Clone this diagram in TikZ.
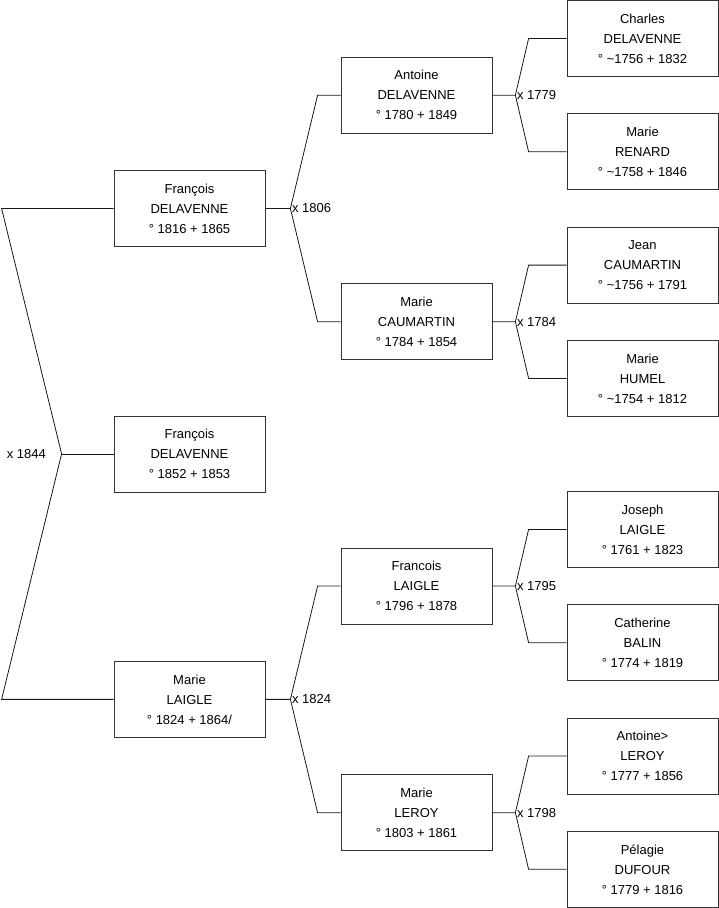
\documentclass[tikz,border=0pt]{standalone}
\usepackage{fontspec}
\setmainfont{Liberation Sans}
\usetikzlibrary{calc,positioning}

\begin{document}
\begin{tikzpicture}[
    x=1pt, y=-1pt,
    font=\fontsize{13}{20}\selectfont,
    person/.style={draw=black!80, line width=0.8pt, minimum width=151pt,
      minimum height=76pt, inner sep=0pt, align=center},
    link/.style={draw=black!90, line width=0.8pt},
    wed/.style={font=\fontsize{13}{15}\selectfont, inner sep=1.5pt, anchor=west}
  ]
    \useasboundingbox (0,0) rectangle (719,908);

    % great-grandparents
    \node[person] (charles) at (642.5,38.5) {Charles\\DELAVENNE\\° \textasciitilde 1756 + 1832};
    \node[person, below=36.5pt of charles] (renard) {Marie\\RENARD\\° \textasciitilde 1758 + 1846};
    \node[person, below=36.5pt of renard] (jean) {Jean\\CAUMARTIN\\° \textasciitilde 1756 + 1791};
    \node[person, below=36.5pt of jean] (humel) {Marie\\HUMEL\\° \textasciitilde 1754 + 1812};
    \node[person, below=74.2pt of humel] (joseph) {Joseph\\LAIGLE\\° 1761 + 1823};
    \node[person, below=36.5pt of joseph] (balin) {Catherine\\BALIN\\° 1774 + 1819};
    \node[person, below=36.5pt of balin] (antoineL) {Antoine>\\LEROY\\° 1777 + 1856};
    \node[person, below=36.5pt of antoineL] (pelagie) {Pélagie\\DUFOUR\\° 1779 + 1816};

    % grandparents
    \node[person] (antoineD) at ($(charles)!0.5!(renard)+(-226,0)$) {Antoine\\DELAVENNE\\° 1780 + 1849};
    \node[person] (marieC) at ($(jean)!0.5!(humel)+(-226,0)$) {Marie\\CAUMARTIN\\° 1784 + 1854};
    \node[person] (francoisL) at ($(joseph)!0.5!(balin)+(-226,0)$) {Francois\\LAIGLE\\° 1796 + 1878};
    \node[person] (marieLR) at ($(antoineL)!0.5!(pelagie)+(-226,0)$) {Marie\\LEROY\\° 1803 + 1861};

    % parents and child
    \node[person] (francoisD) at ($(antoineD)!0.5!(marieC)+(-227,0)$) {François\\DELAVENNE\\° 1816 + 1865};
    \node[person] (marieL) at ($(francoisL)!0.5!(marieLR)+(-227,0)$) {Marie\\LAIGLE\\° 1824 + 1864/};
    \node[person] (francoisC) at ($(francoisD)!0.5!(marieL)$) {François\\DELAVENNE\\° 1852 + 1853};

    % marriage forks
    \coordinate (w1844) at ($(francoisC.west)+(-52,0)$);
    \coordinate (topend) at ($(francoisD.west)+(-112,0)$);
    \coordinate (botend) at ($(marieL.west)+(-112,0)$);
    \draw[link] (francoisD.west) -- (topend) -- (w1844) -- (botend) -- (marieL.west);
    \draw[link] (w1844) -- (francoisC.west);
    \node[wed, anchor=east, xshift=-14pt] (l1844) at (w1844) {x 1844};

    \coordinate (w1806) at ($(francoisD.east)+(25,0)$);
    \draw[link] (francoisD.east) -- (w1806) -- ($(antoineD.west)+(-23,0)$) -- (antoineD.west);
    \draw[link] (w1806) -- ($(marieC.west)+(-23,0)$) -- (marieC.west);
    \node[wed] (l1806) at (w1806) {x 1806};

    \coordinate (w1824) at ($(marieL.east)+(25,0)$);
    \draw[link] (marieL.east) -- (w1824) -- ($(francoisL.west)+(-23,0)$) -- (francoisL.west);
    \draw[link] (w1824) -- ($(marieLR.west)+(-23,0)$) -- (marieLR.west);
    \node[wed] (l1824) at (w1824) {x 1824};

    \coordinate (w1779) at ($(antoineD.east)+(23,0)$);
    \draw[link] (antoineD.east) -- (w1779) -- ($(charles.west)+(-38,0)$) -- (charles.west);
    \draw[link] (w1779) -- ($(renard.west)+(-38,0)$) -- (renard.west);
    \node[wed] (l1779) at (w1779) {x 1779};

    \coordinate (w1784) at ($(marieC.east)+(23,0)$);
    \draw[link] (marieC.east) -- (w1784) -- ($(jean.west)+(-38,0)$) -- (jean.west);
    \draw[link] (w1784) -- ($(humel.west)+(-38,0)$) -- (humel.west);
    \node[wed] (l1784) at (w1784) {x 1784};

    \coordinate (w1795) at ($(francoisL.east)+(23,0)$);
    \draw[link] (francoisL.east) -- (w1795) -- ($(joseph.west)+(-38,0)$) -- (joseph.west);
    \draw[link] (w1795) -- ($(balin.west)+(-38,0)$) -- (balin.west);
    \node[wed] (l1795) at (w1795) {x 1795};

    \coordinate (w1798) at ($(marieLR.east)+(23,0)$);
    \draw[link] (marieLR.east) -- (w1798) -- ($(antoineL.west)+(-38,0)$) -- (antoineL.west);
    \draw[link] (w1798) -- ($(pelagie.west)+(-38,0)$) -- (pelagie.west);
    \node[wed] (l1798) at (w1798) {x 1798};
  \end{tikzpicture}
\end{document}
